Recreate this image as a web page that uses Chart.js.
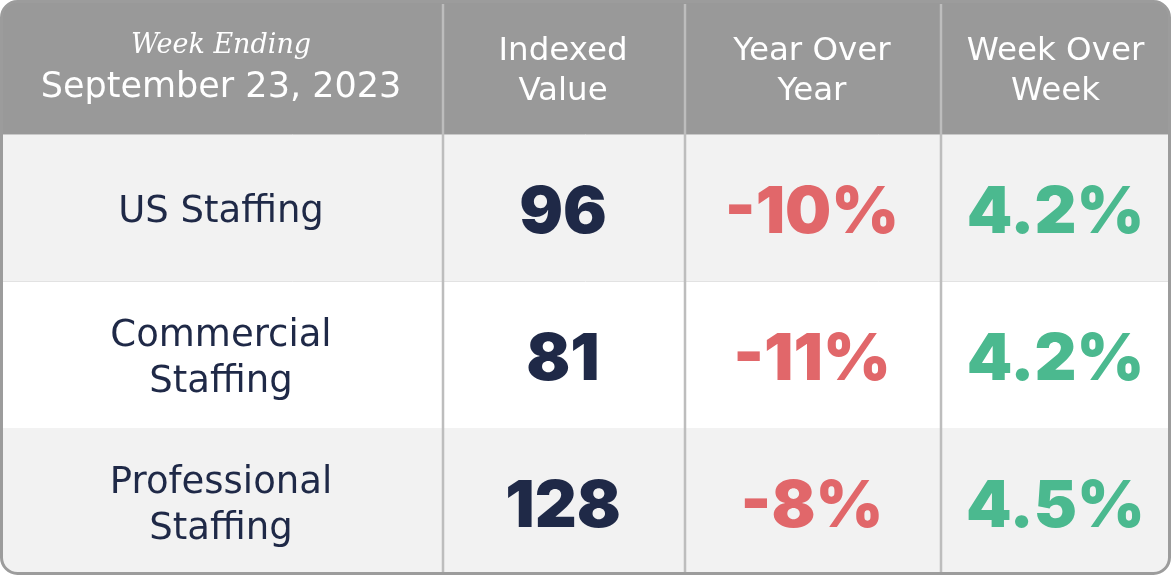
<!DOCTYPE html>
<html>
<head>
<meta charset="utf-8">
<script src="https://cdn.jsdelivr.net/npm/chart.js@4.4.0/dist/chart.umd.min.js"></script>
<style>
  html, body { margin: 0; padding: 0; background: #ffffff; }
  #wrap { width: 1171px; height: 575px; position: relative; }
</style>
</head>
<body>
<div id="wrap"><canvas id="staffingTable"></canvas></div>
<script>
// datos de la tabla
const weekLabel = 'Week Ending';
const weekDate = 'September 23, 2023';
const columnTitles = [['Indexed', 'Value'], ['Year Over', 'Year'], ['Week Over', 'Week']];
const segments = [['US Staffing'], ['Commercial', 'Staffing'], ['Professional', 'Staffing']];
const indexedValue = [96, 81, 128];
const yearOverYear = [-10, -11, -8];
const weekOverWeek = [4.2, 4.2, 4.5];

// layout (unidades de escala)
const colEdges = [0, 442, 684, 940, 1171];
const headerBottom = 134;
const tableBottom = 575;

const NAVY = '#1f2947';
const RED = '#e1676a';
const GREEN = '#4bb98f';
const TEXT_FONT = '"DejaVu Sans", sans-serif';
const NUM_FONT = 'Inter, "DejaVu Sans", sans-serif';

function rowEdges() {
  const h = (tableBottom - headerBottom) / segments.length;
  return [0, headerBottom, ...segments.map((_, i) => headerBottom + h * (i + 1))];
}

function fmtPct(v, digits) {
  return (digits ? v.toFixed(digits) : String(v)) + '%';
}

const tablePlugin = {
  id: 'tablePlugin',
  afterDraw(chart) {
    const ctx = chart.ctx;
    const x = chart.scales.x, y = chart.scales.y;
    const px = v => x.getPixelForValue(v);
    const py = v => y.getPixelForValue(v);
    const rows = rowEdges();
    const left = px(0) + 1.5, right = px(1171) - 1.5, top = py(0) + 1.5, bottom = py(tableBottom) - 1.5;

    ctx.save();
    ctx.beginPath();
    ctx.roundRect(left, top, right - left, bottom - top, 16);
    ctx.clip();

    // fondo cabecera
    ctx.fillStyle = '#999999';
    ctx.fillRect(px(0), py(rows[0]), px(1171) - px(0), py(rows[1]) - py(rows[0]));
    // filas
    segments.forEach((_, i) => {
      ctx.fillStyle = i % 2 === 0 ? '#f2f2f2' : '#ffffff';
      ctx.fillRect(px(0), py(rows[i + 1]), px(1171) - px(0), py(rows[i + 2]) - py(rows[i + 1]));
    });

    // lineas horizontales
    ctx.strokeStyle = '#c9c9c9';
    ctx.lineWidth = 1;
    ctx.beginPath();
    ctx.moveTo(px(0), py(rows[1]) + 0.5);
    ctx.lineTo(px(1171), py(rows[1]) + 0.5);
    ctx.stroke();
    ctx.strokeStyle = '#e2e2e2';
    ctx.beginPath();
    ctx.moveTo(px(0), py(rows[2]) + 0.5);
    ctx.lineTo(px(1171), py(rows[2]) + 0.5);
    ctx.stroke();

    // separadores verticales
    ctx.lineWidth = 2.5;
    colEdges.slice(1, -1).forEach(e => {
      ctx.strokeStyle = '#bdbdbd';
      ctx.beginPath();
      ctx.moveTo(px(e) + 1, py(4));
      ctx.lineTo(px(e) + 1, py(tableBottom));
      ctx.stroke();
    });

    ctx.textAlign = 'center';
    ctx.textBaseline = 'alphabetic';
    const colCenter = c => (px(colEdges[c]) + px(colEdges[c + 1])) / 2;
    const headMid = (py(rows[0]) + py(rows[1])) / 2;

    // cabecera
    ctx.fillStyle = '#ffffff';
    ctx.font = 'italic 27px "DejaVu Serif", serif';
    ctx.fillText(weekLabel, colCenter(0), headMid - 14);
    ctx.font = '35px ' + TEXT_FONT;
    ctx.fillText(weekDate, colCenter(0), headMid + 30);
    ctx.font = '32.5px ' + TEXT_FONT;
    columnTitles.forEach((lines, c) => {
      lines.forEach((t, i) => {
        ctx.fillText(t, colCenter(c + 1), headMid + 13 + (i - (lines.length - 1) / 2) * 40);
      });
    });

    // filas
    segments.forEach((lines, r) => {
      const mid = (py(rows[r + 1]) + py(rows[r + 2])) / 2;
      ctx.fillStyle = NAVY;
      ctx.font = '37px ' + TEXT_FONT;
      lines.forEach((t, i) => {
        ctx.fillText(t, colCenter(0), mid + 14 + (i - (lines.length - 1) / 2) * 46);
      });

      ctx.font = '900 65px ' + NUM_FONT;
      ctx.fillStyle = NAVY;
      ctx.fillText(String(indexedValue[r]), colCenter(1), mid + 25);
      ctx.fillStyle = yearOverYear[r] < 0 ? RED : GREEN;
      ctx.fillText(fmtPct(yearOverYear[r], 0), colCenter(2), mid + 25);
      ctx.fillStyle = weekOverWeek[r] < 0 ? RED : GREEN;
      ctx.fillText(fmtPct(weekOverWeek[r], 1), colCenter(3), mid + 25);
    });
    ctx.restore();

    // borde exterior
    ctx.save();
    ctx.strokeStyle = '#9c9c9c';
    ctx.lineWidth = 3;
    ctx.beginPath();
    ctx.roundRect(left, top, right - left, bottom - top, 16);
    ctx.stroke();
    ctx.restore();
  }
};

new Chart(document.getElementById('staffingTable'), {
  type: 'scatter',
  data: { labels: segments.map(s => s.join(' ')), datasets: [] },
  options: {
    responsive: true,
    maintainAspectRatio: false,
    animation: false,
    layout: { padding: 0 },
    plugins: { legend: { display: false }, tooltip: { enabled: false } },
    scales: {
      x: { type: 'linear', display: false, min: 0, max: 1171 },
      y: { type: 'linear', display: false, min: 0, max: 575, reverse: true }
    }
  },
  plugins: [tablePlugin]
});
</script>
</body>
</html>
